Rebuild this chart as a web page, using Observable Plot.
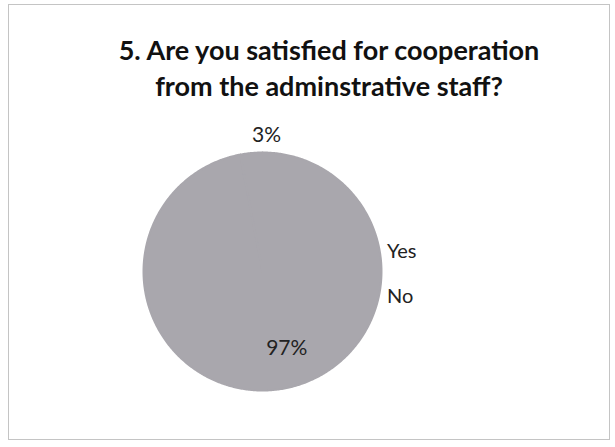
<!DOCTYPE html>
<html><head><meta charset="utf-8">
<script src="https://cdn.jsdelivr.net/npm/d3@7"></script>
<script src="https://cdn.jsdelivr.net/npm/@observablehq/plot@0.6"></script>
<style>
body{margin:0;background:#fff;width:615px;height:447px;overflow:hidden;position:relative;font-family:Lato,"Open Sans",sans-serif;}
#frame{position:absolute;left:8px;top:4px;width:602px;height:436px;border:1px solid #c4c4c4;box-sizing:border-box;}
#title{position:absolute;left:0;width:658px;top:32px;text-align:center;font-weight:bold;font-size:27px;line-height:36px;color:#111;white-space:nowrap;}
#chart{position:absolute;left:0;top:120px;}
#legend{position:absolute;left:387px;top:238px;font-size:20px;line-height:24px;color:#222;}
#legend div{height:45px;}
</style>
</head><body>
<div id="frame"></div>
<div id="title"></div>
<div id="chart"></div>
<div id="legend"></div>
<script>
const titleLines = ["5. Are you satisfied for cooperation", "from the adminstrative staff?"];
const categories = ["Yes", "No"];
const values = [97, 3];
const labels = ["97%", "3%"];

document.getElementById("title").innerHTML = titleLines.map(t => `<div>${t}</div>`).join("");
document.getElementById("legend").innerHTML = categories.map(c => `<div>${c}</div>`).join("");

const arcs = d3.pie().sort(null)(values);
const points = [];
arcs.forEach((a, i) => {
  points.push({cat: categories[i], x: 0, y: 0});
  const n = Math.max(2, Math.ceil((a.endAngle - a.startAngle) / 0.01));
  for (let k = 0; k <= n; k++) {
    const t = a.startAngle + (a.endAngle - a.startAngle) * k / n;
    points.push({cat: categories[i], x: Math.sin(t), y: Math.cos(t)});
  }
  points.push({cat: categories[i], x: 0, y: 0});
});
const labelPts = arcs.map((a, i) => {
  const m = (a.startAngle + a.endAngle) / 2;
  const r = values[i] < 10 ? 1.15 : 0.65;
  return {text: labels[i], x: r * Math.sin(m), y: r * Math.cos(m)};
});

const cx = 262, cy = 151, R = 119;
const chart = Plot.plot({
  width: 615, height: 320, margin: 0,
  x: {domain: [-1, 1], range: [cx - R, cx + R], axis: null},
  y: {domain: [-1, 1], range: [cy + R, cy - R], axis: null},
  marks: [
    Plot.line(points, {x: "x", y: "y", z: "cat", fill: "#a9a7ad", stroke: "#a9a7ad", strokeWidth: 2, strokeLinejoin: "round"}),
    Plot.text(labelPts, {x: "x", y: "y", text: "text", dx: 17, fontSize: 21, fontFamily: "Lato, 'Open Sans', sans-serif", fill: "#222"})
  ]
});
document.getElementById("chart").appendChild(chart);
</script>
</body></html>
